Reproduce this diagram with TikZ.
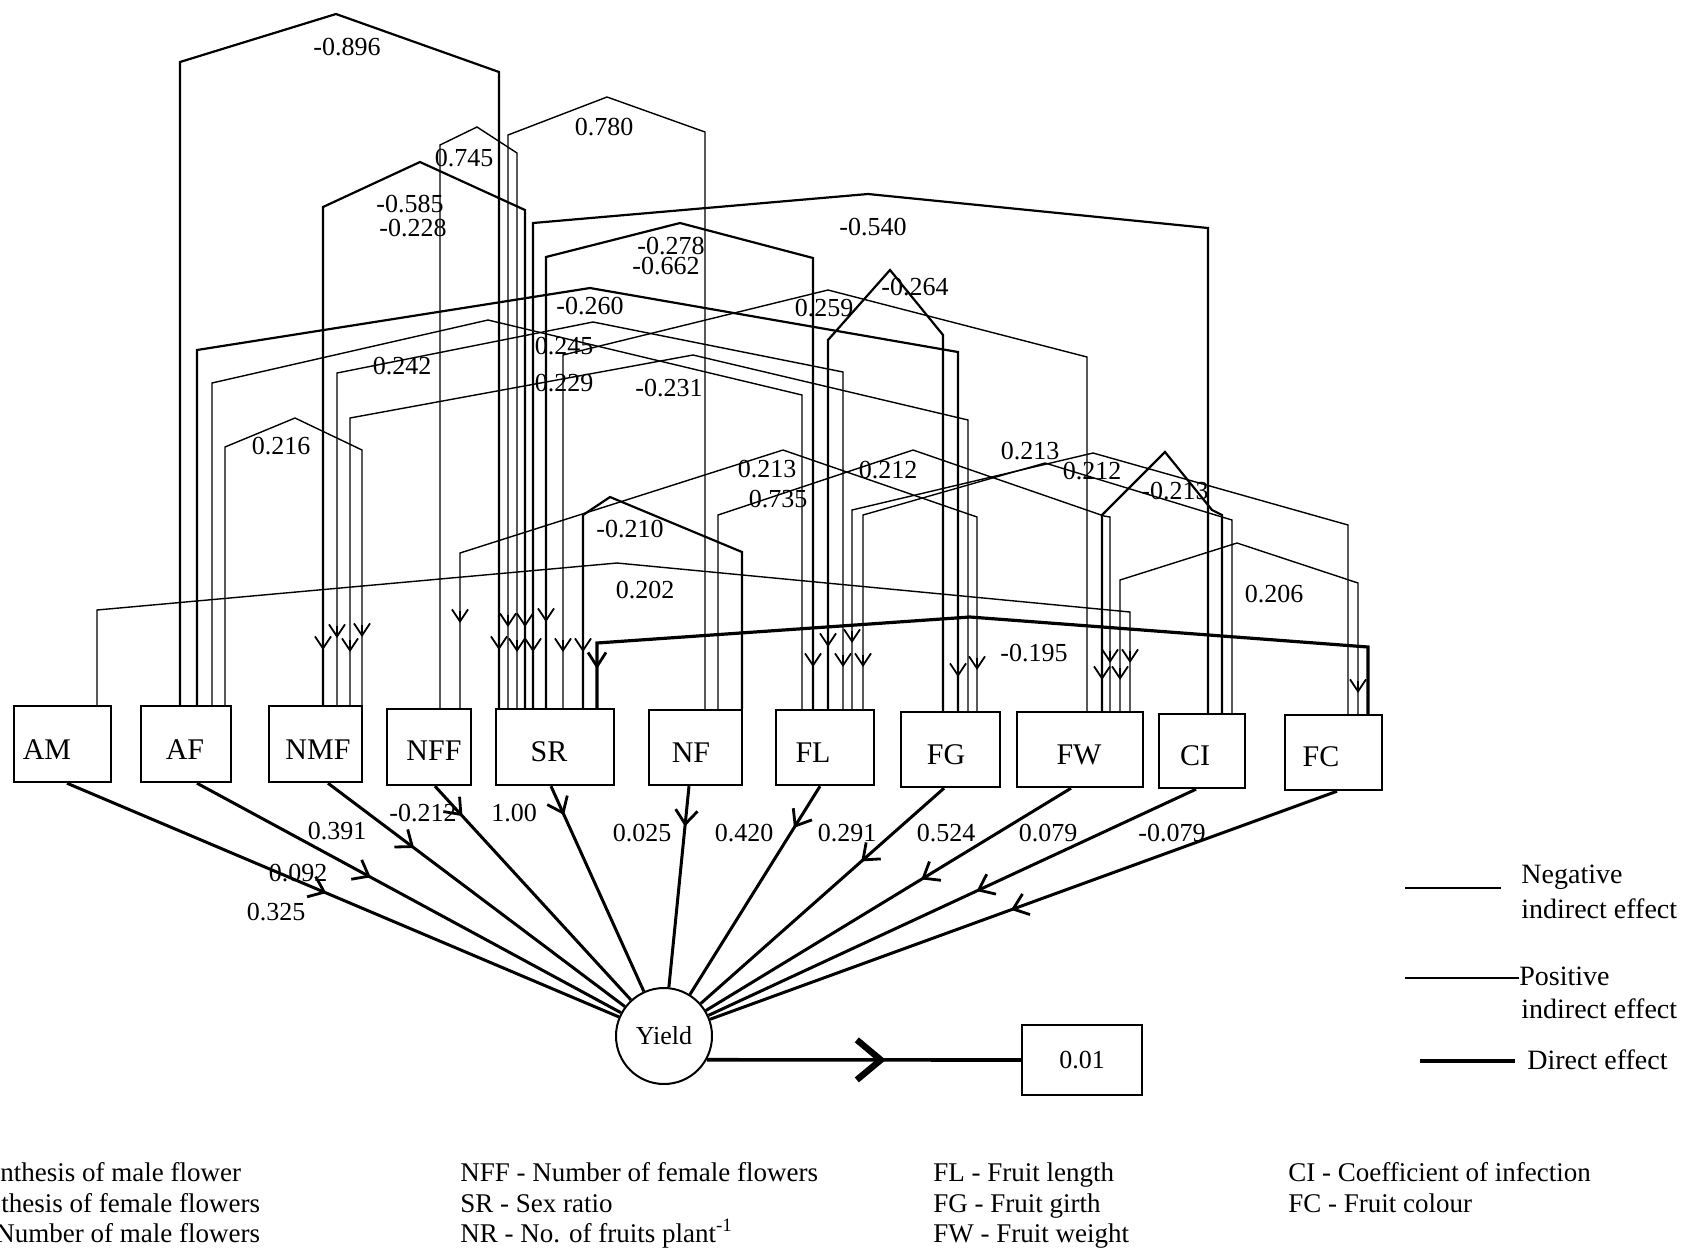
\documentclass[tikz,border=0pt]{standalone}
\usepackage{fontspec}
\setmainfont{Liberation Serif}
\usetikzlibrary{arrows.meta,decorations.markings}
\tikzset{
  box/.style={draw, line width=1.2pt, inner sep=0pt},
  boxlab/.style={inner sep=0pt, font=\fontsize{15}{17}\selectfont},
  negline/.style={line width=1.1pt},
  posline/.style={line width=0.7pt},
  dirline/.style={line width=1.5pt},
  lab/.style={inner sep=0pt, font=\fontsize{13}{15}\selectfont},
  tipv/.style={line width=0.9pt, -{Straight Barb[length=6pt,width=8pt]}},
  midtip/.style={postaction={decorate},decoration={markings,mark=at position #1 with {\arrow[line width=1.4pt]{Straight Barb[length=7pt,width=11pt]}}}},
  bigtip/.style={postaction={decorate},decoration={markings,mark=at position #1 with {\arrow[line width=3.2pt]{Straight Barb[length=12pt,width=20pt]}}}},
  leg/.style={inner sep=0pt, anchor=west, font=\fontsize{14}{16}\selectfont},
  foot/.style={inner sep=0pt, anchor=base west, font=\fontsize{13.5}{16}\selectfont},
}
\newcommand\vtip[2]{\draw[tipv] (#1,#2-12) -- (#1,#2);}
\begin{document}
\begin{tikzpicture}[x=0.5pt,y=-0.5pt]
\useasboundingbox (0,0) rectangle (1686,1249);
% boxes
\node[box, minimum width=48.5pt, minimum height=38pt] (AM) at (62.5,744) {};
\node[box, minimum width=45pt, minimum height=38pt] (AF) at (186,744) {};
\node[box, minimum width=46.5pt, minimum height=38pt] (NMF) at (315.5,744) {};
\node[box, minimum width=42pt, minimum height=38pt] (NFF) at (429,747) {};
\node[box, minimum width=59pt, minimum height=38pt] (SR) at (555,747) {};
\node[box, minimum width=46.5pt, minimum height=37.5pt] (NF) at (695.5,747.5) {};
\node[box, minimum width=49pt, minimum height=37.5pt] (FL) at (825,747.5) {};
\node[box, minimum width=49.5pt, minimum height=37.5pt] (FG) at (950.5,749.5) {};
\node[box, minimum width=63pt, minimum height=37.5pt] (FW) at (1080,749.5) {};
\node[box, minimum width=43pt, minimum height=37pt] (CI) at (1202,751) {};
\node[box, minimum width=48.5pt, minimum height=37.5pt] (FC) at (1333.5,752.5) {};
\node[boxlab] (tAM) at (47,750) {AM};
\node[boxlab] (tAF) at (185,750) {AF};
\node[boxlab] (tNMF) at (318,750) {NMF};
\node[boxlab] (tNFF) at (434,751) {NFF};
\node[boxlab] (tSR) at (549,752) {SR};
\node[boxlab] (tNF) at (691,753) {NF};
\node[boxlab] (tFL) at (813,753) {FL};
\node[boxlab] (tFG) at (946,755) {FG};
\node[boxlab] (tFW) at (1079,755) {FW};
\node[boxlab] (tCI) at (1195,756) {CI};
\node[boxlab] (tFC) at (1321,757) {FC};
\node[draw, circle, line width=1pt, minimum size=48pt, inner sep=0pt, font=\fontsize{13}{15}\selectfont] (Y) at (664,1036) {Yield};
\node[box, minimum width=60pt, minimum height=35pt, font=\fontsize{13}{15}\selectfont] (R) at (1082,1060) {0.01};

% indirect connectors
\draw[negline] (AF.north -| 180,0) -- (180,62) -- (336,14) -- (499,72) -- (SR.north -| 499,0);
\draw[posline] (NFF.north -| 440,0) -- (440,145) -- (477,127) -- (517,153) -- (SR.north -| 517,0);
\draw[negline] (NMF.north -| 323,0) -- (323,207) -- (420,162) -- (525,210) -- (SR.north -| 525,0);
\draw[posline] (SR.north -| 508,0) -- (508,135) -- (607,97) -- (705,132) -- (NF.north -| 705,0);
\draw[negline] (SR.north -| 533,0) -- (533,223) -- (868,194) -- (1208,228) -- (CI.north -| 1208,0);
\draw[negline] (SR.north -| 546,0) -- (546,257) -- (680,223) -- (813,258) -- (FL.north -| 813,0);
\draw[negline] (FL.north -| 828,0) -- (828,340) -- (890,270) -- (943,335) -- (FG.north -| 943,0);
\draw[negline] (AF.north -| 197,0) -- (197,350) -- (590,288) -- (958,352) -- (FG.north -| 958,0);
\draw[posline] (SR.north -| 563,0) -- (563,355) -- (828,290) -- (1087,357) -- (FW.north -| 1087,0);
\draw[posline] (AF.north -| 212,0) -- (212,383) -- (488,320) -- (802,395) -- (FL.north -| 802,0);
\draw[posline] (NMF.north -| 337,0) -- (337,373) -- (593,322) -- (843,372) -- (FL.north -| 843,0);
\draw[posline] (NMF.north -| 350,0) -- (350,418) -- (693,355) -- (968,420) -- (FG.north -| 968,0);
\draw[posline] (AF.north -| 225,0) -- (225,447) -- (295,418) -- (362,450) -- (NMF.north -| 362,0);
\draw[posline] (NFF.north -| 460,0) -- (460,553) -- (783,450) -- (977,517) -- (FG.north -| 977,0);
\draw[posline] (NF.north -| 718,0) -- (718,515) -- (913,450) -- (1104,516) -- (1110,517) -- (FW.north -| 1110,0);
\draw[negline] (SR.north -| 583,0) -- (583,515) -- (610,497) -- (742,552) -- (NF.north -| 742,0);
\draw[posline] (FL.north -| 852,0) -- (852,510) -- (1093,453) -- (1348,525) -- (FC.north -| 1348,0);
\draw[posline] (FL.north -| 863,0) -- (863,515) -- (1045,463) -- (1222,517) -- (1232,520) -- (CI.north -| 1232,0);
\draw[negline] (FW.north -| 1102,0) -- (1102,515) -- (1165,452) -- (1212,510) -- (1222,515) -- (CI.north -| 1222,0);
\draw[posline] (AM.north -| 97,0) -- (97,610) -- (617,563) -- (1130,612) -- (FW.north -| 1130,0);
\draw[posline] (FW.north -| 1120,0) -- (1120,580) -- (1237,543) -- (1358,583) -- (FC.north -| 1358,0);
\draw[negline, line width=1.6pt] (SR.north -| 597,0) -- (597,643) -- (970,617) -- (1368,647) -- (FC.north -| 1368,0);

% arrow tips on verticals
\vtip{323}{650}\vtip{337}{638}\vtip{350}{652}\vtip{362}{637}
\vtip{460}{623}
\vtip{499}{650}\vtip{508}{627}\vtip{517}{652}\vtip{525}{627}\vtip{533}{652}\vtip{546}{622}\vtip{563}{652}\vtip{583}{652}
\draw[line width=1.4pt, -{Straight Barb[length=7pt,width=9pt]}] (597,655) -- (597,669);
\vtip{813}{667}\vtip{828}{647}\vtip{843}{667}\vtip{852}{643}\vtip{863}{667}
\vtip{958}{677}\vtip{977}{670}
\vtip{1102}{680}\vtip{1110}{663}\vtip{1120}{680}\vtip{1130}{663}
\vtip{1358}{693}

% indirect labels
\node[lab] (l1) at (347,47) {-0.896};
\node[lab] (l2) at (604,127) {0.780};
\node[lab] (l3) at (464,158) {0.745};
\node[lab] (l4) at (410,204) {-0.585};
\node[lab] (l5) at (413,228) {-0.228};
\node[lab] (l6) at (873,227) {-0.540};
\node[lab] (l7) at (671,246) {-0.278};
\node[lab] (l8) at (666,266) {-0.662};
\node[lab] (l9) at (915,287) {-0.264};
\node[lab] (l10) at (590,306) {-0.260};
\node[lab] (l11) at (824,308) {0.259};
\node[lab] (l12) at (564,346) {0.245};
\node[lab] (l13) at (402,366) {0.242};
\node[lab] (l14) at (564,383) {0.229};
\node[lab] (l15) at (669,388) {-0.231};
\node[lab] (l16) at (281,446) {0.216};
\node[lab] (l17) at (767,469) {0.213};
\node[lab] (l18) at (778,499) {0.735};
\node[lab] (l19) at (888,470) {0.212};
\node[lab] (l20) at (1030,451) {0.213};
\node[lab] (l21) at (1092,471) {0.212};
\node[lab] (l22) at (1175,491) {-0.213};
\node[lab] (l23) at (630,529) {-0.210};
\node[lab] (l24) at (645,590) {0.202};
\node[lab] (l25) at (1274,594) {0.206};
\node[lab] (l26) at (1034,653) {-0.195};

% direct effects
\draw[dirline, midtip=0.47] (AM.south -| 67,0) -- (Y);
\draw[dirline, midtip=0.41] (AF.south -| 197,0) -- (Y);
\draw[dirline, midtip=0.29] (NMF.south -| 328,0) -- (Y);
\draw[dirline, midtip=0.14] (NFF.south -| 435,0) -- (Y);
\draw[dirline, midtip=0.14] (SR.south -| 551,0) -- (Y);
\draw[dirline, midtip=0.2] (NF.south -| 689,0) -- (Y);
\draw[dirline, midtip=0.2] (FL.south -| 820,0) -- (Y);
\draw[dirline, midtip=0.34] (FG.south -| 944,0) -- (Y);
\draw[dirline, midtip=0.41] (FW.south -| 1071,0) -- (Y);
\draw[dirline, midtip=0.45] (CI.south -| 1196,0) -- (Y);
\draw[dirline, midtip=0.52] (FC.south -| 1337,0) -- (Y);
\draw[dirline, line width=1.8pt, bigtip=0.57] (Y.-29) -- (R.west);

\node[lab] (d1) at (276,912) {0.325};
\node[lab] (d2) at (298,873) {0.092};
\node[lab] (d3) at (337,831) {0.391};
\node[lab] (d4) at (423,813) {-0.212};
\node[lab] (d5) at (514,813) {1.00};
\node[lab] (d6) at (642,833) {0.025};
\node[lab] (d7) at (744,833) {0.420};
\node[lab] (d8) at (847,833) {0.291};
\node[lab] (d9) at (946,833) {0.524};
\node[lab] (d10) at (1048,833) {0.079};
\node[lab] (d11) at (1172,833) {-0.079};

% legend
\node[leg] (gn1) at (1521,877) {Negative};
\node[leg] (gn2) at (1521,909) {indirect effect};
\node[leg] (gp1) at (1519,976) {Positive};
\node[leg] (gp2) at (1521,1009) {indirect effect};
\node[leg] (gd) at (1527,1060) {Direct effect};
\draw[line width=1.1pt] (1405,888) -- ([xshift=-10pt]gn1.west |- 0,888);
\draw[line width=0.7pt] (1405,978) -- (gp1.west |- 0,978);
\draw[line width=2.2pt] (1420,1061) -- ([xshift=-6pt]gd.west |- 0,1061);

% abbreviations
\node[foot] (a1) at (0,1181) {nthesis of male flower};
\node[foot] (a2) at (1,1212) {thesis of female flowers};
\node[foot] (a3) at (-5,1242) {Number of male flowers};
\node[foot] (b1) at (460,1181) {NFF - Number of female flowers};
\node[foot] (b2) at (460,1212) {SR - Sex ratio};
\node[foot] (b3) at (460,1242) {NR - No. of fruits plant\textsuperscript{-1}};
\node[foot] (c1) at (933,1181) {FL - Fruit length};
\node[foot] (c2) at (933,1212) {FG - Fruit girth};
\node[foot] (c3) at (933,1242) {FW - Fruit weight};
\node[foot] (e1) at (1288,1181) {CI - Coefficient of infection};
\node[foot] (e2) at (1288,1212) {FC - Fruit colour};
\end{tikzpicture}
\end{document}
